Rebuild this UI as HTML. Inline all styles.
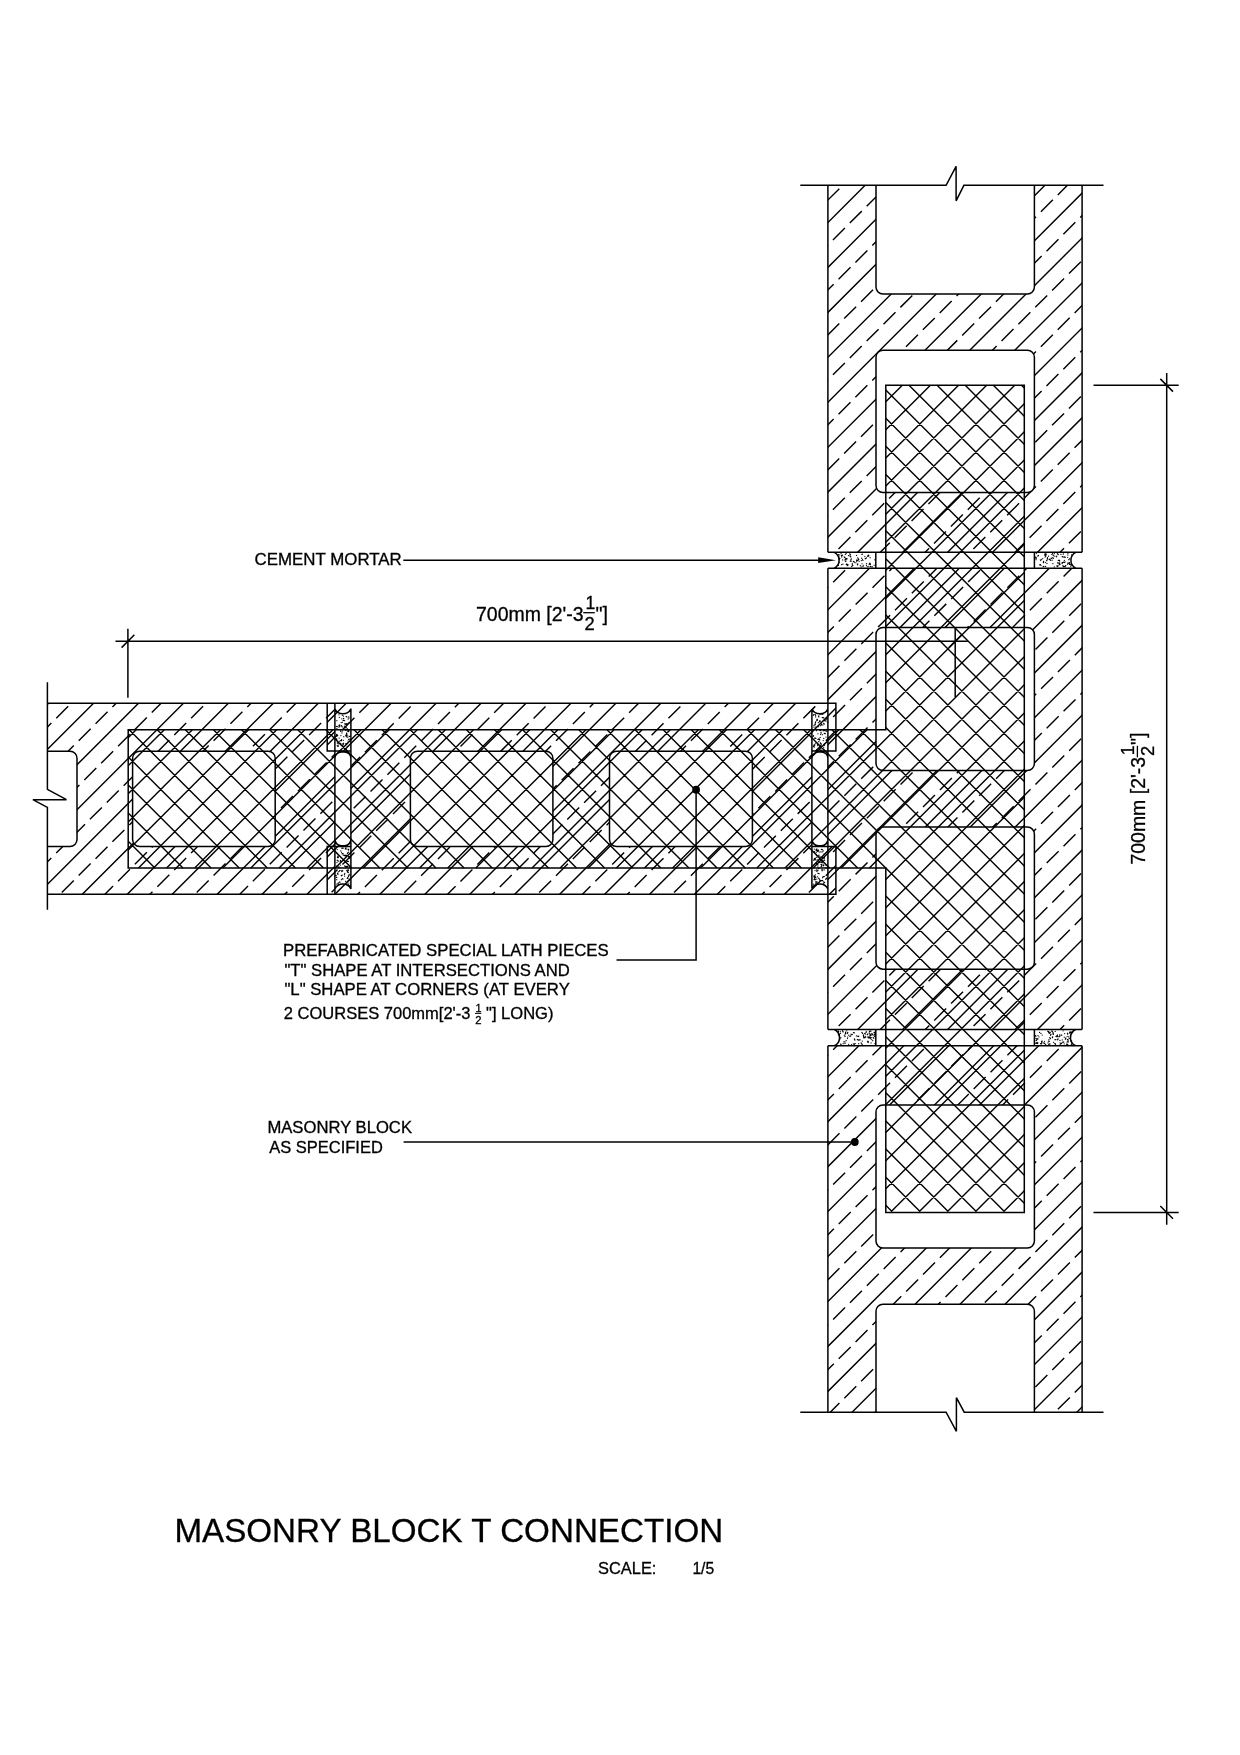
<!DOCTYPE html>
<html lang="en"><head><meta charset="utf-8"><title>Masonry Block T Connection</title>
<style>html,body{margin:0;padding:0;background:#fff}body{width:1240px;height:1755px;overflow:hidden}svg{display:block;will-change:transform}</style>
</head><body>
<svg width="1240" height="1755" viewBox="0 0 1240 1755">
<defs>
<clipPath id="cv1"><path clip-rule="evenodd" d="M827.9 185.3H1082.1V552.3H827.9ZM876 185.3H1034.4V287A7.0 7.0 0 0 1 1027.4 294H883A7.0 7.0 0 0 1 876 287ZM883 350.2H1027.4A7.0 7.0 0 0 1 1034.4 357.2V485.6A7.0 7.0 0 0 1 1027.4 492.6H883A7.0 7.0 0 0 1 876 485.6V357.2A7.0 7.0 0 0 1 883 350.2Z"/></clipPath>
<clipPath id="cv2"><path clip-rule="evenodd" d="M827.9 568.2H1082.1V1029.5H827.9ZM883 627.4H1027.4A7.0 7.0 0 0 1 1034.4 634.4V763.6A7.0 7.0 0 0 1 1027.4 770.6H883A7.0 7.0 0 0 1 876 763.6V634.4A7.0 7.0 0 0 1 883 627.4ZM883 827.1H1027.4A7.0 7.0 0 0 1 1034.4 834.1V962.2A7.0 7.0 0 0 1 1027.4 969.2H883A7.0 7.0 0 0 1 876 962.2V834.1A7.0 7.0 0 0 1 883 827.1Z"/></clipPath>
<clipPath id="cv3"><path clip-rule="evenodd" d="M827.9 1045.8H1082.1V1412.2H827.9ZM883 1105H1027.4A7.0 7.0 0 0 1 1034.4 1112V1241.1A7.0 7.0 0 0 1 1027.4 1248.1H883A7.0 7.0 0 0 1 876 1241.1V1112A7.0 7.0 0 0 1 883 1105ZM876 1412.2V1311.2A7.0 7.0 0 0 1 883 1304.2H1027.4A7.0 7.0 0 0 1 1034.4 1311.2V1412.2Z"/></clipPath>
<clipPath id="ch1"><path clip-rule="evenodd" d="M47.4 703.3H334.9V894.3H47.4ZM47.4 751.2H70A7.0 7.0 0 0 1 77 758.2V839.5A7.0 7.0 0 0 1 70 846.5H47.4ZM139.6 751.2H268.2A7.0 7.0 0 0 1 275.2 758.2V839.5A7.0 7.0 0 0 1 268.2 846.5H139.6A7.0 7.0 0 0 1 132.6 839.5V758.2A7.0 7.0 0 0 1 139.6 751.2Z"/></clipPath>
<clipPath id="ch2"><path clip-rule="evenodd" d="M327.2 703.3H350.9V751.1H327.2ZM327.2 846.6H350.9V894.3H327.2ZM811.9 703.3H835.9V751.1H811.9ZM811.9 846.6H835.9V894.3H811.9ZM350.9 703.3H811.9V894.3H350.9ZM417.4 751.2H545.9A7.0 7.0 0 0 1 552.9 758.2V839.5A7.0 7.0 0 0 1 545.9 846.5H417.4A7.0 7.0 0 0 1 410.4 839.5V758.2A7.0 7.0 0 0 1 417.4 751.2ZM616.5 751.2H745.4A7.0 7.0 0 0 1 752.4 758.2V839.5A7.0 7.0 0 0 1 745.4 846.5H616.5A7.0 7.0 0 0 1 609.5 839.5V758.2A7.0 7.0 0 0 1 616.5 751.2Z"/></clipPath>
<clipPath id="cl"><path d="M128.2 729.7H885.8V385.2H1024.3V1212.4H885.8V867.9H128.2Z"/></clipPath>
</defs>
<rect width="1240" height="1755" fill="#fff"/>
<path clip-path="url(#cv1)" d="M826.9 223.5L866.1 184.3M826.9 268.45L911.05 184.3M826.9 313.4L956 184.3M826.9 358.35L1000.95 184.3M826.9 403.3L1045.9 184.3M826.9 448.25L1083.1 192.05M826.9 493.2L1083.1 237M826.9 538.15L1083.1 281.95M856.7 553.3L1083.1 326.9M901.65 553.3L1083.1 371.85M946.6 553.3L1083.1 416.8M991.55 553.3L1083.1 461.75M1036.5 553.3L1083.1 506.7" fill="none" stroke="#000" stroke-width="1.42"/>
<path clip-path="url(#cv1)" d="M810.48 217.47L843.65 184.3M799.23 273.67L888.6 184.3M804.84 313.01L933.55 184.3M810.45 352.35L978.5 184.3M799.19 408.56L1023.45 184.3M804.8 447.9L1068.4 184.3M810.41 487.24L1083.1 214.55M799.16 543.44L1083.1 259.5M804.77 582.78L1083.1 304.45M860.97 571.53L1083.1 349.4M900.31 577.14L1083.1 394.35M939.65 582.75L1083.1 439.3M995.86 571.49L1083.1 484.25M1035.2 577.1L1083.1 529.2" fill="none" stroke="#000" stroke-width="1.42" stroke-dasharray="16.9 6.95"/>
<path clip-path="url(#cv2)" d="M826.9 610.8L870.5 567.2M826.9 655.75L915.45 567.2M826.9 700.7L960.4 567.2M826.9 745.65L1005.35 567.2M826.9 790.6L1050.3 567.2M826.9 835.55L1083.1 579.35M826.9 880.5L1083.1 624.3M826.9 925.45L1083.1 669.25M826.9 970.4L1083.1 714.2M826.9 1015.35L1083.1 759.15M856.7 1030.5L1083.1 804.1M901.65 1030.5L1083.1 849.05M946.6 1030.5L1083.1 894M991.55 1030.5L1083.1 938.95M1036.5 1030.5L1083.1 983.9" fill="none" stroke="#000" stroke-width="1.42"/>
<path clip-path="url(#cv2)" d="M799.44 615.86L848.1 567.2M805.05 655.2L893.05 567.2M810.66 694.54L938 567.2M799.41 750.74L982.95 567.2M805.02 790.08L1027.9 567.2M810.63 829.42L1072.85 567.2M799.37 885.63L1083.1 601.9M804.98 924.97L1083.1 646.85M810.59 964.31L1083.1 691.8M799.34 1020.51L1083.1 736.75M804.95 1059.85L1083.1 781.7M861.15 1048.6L1083.1 826.65M900.49 1054.21L1083.1 871.6M939.83 1059.82L1083.1 916.55M996.04 1048.56L1083.1 961.5M1035.38 1054.17L1083.1 1006.45" fill="none" stroke="#000" stroke-width="1.42" stroke-dasharray="16.9 6.95"/>
<path clip-path="url(#cv3)" d="M826.9 1077.75L859.85 1044.8M826.9 1122.7L904.8 1044.8M826.9 1167.65L949.75 1044.8M826.9 1212.6L994.7 1044.8M826.9 1257.55L1039.65 1044.8M826.9 1302.5L1083.1 1046.3M826.9 1347.45L1083.1 1091.25M826.9 1392.4L1083.1 1136.2M851.05 1413.2L1083.1 1181.15M896 1413.2L1083.1 1226.1M940.95 1413.2L1083.1 1271.05M985.9 1413.2L1083.1 1316M1030.85 1413.2L1083.1 1360.95M1075.8 1413.2L1083.1 1405.9" fill="none" stroke="#000" stroke-width="1.42"/>
<path clip-path="url(#cv3)" d="M799.44 1083.46L838.1 1044.8M805.05 1122.8L883.05 1044.8M810.66 1162.14L928 1044.8M799.41 1218.34L972.95 1044.8M805.02 1257.68L1017.9 1044.8M810.63 1297.02L1062.85 1044.8M799.37 1353.23L1083.1 1069.5M804.98 1392.57L1083.1 1114.45M810.59 1431.91L1083.1 1159.4M849.93 1437.52L1083.1 1204.35M889.27 1443.13L1083.1 1249.3M945.48 1431.87L1083.1 1294.25M984.82 1437.48L1083.1 1339.2M1024.16 1443.09L1083.1 1384.15" fill="none" stroke="#000" stroke-width="1.42" stroke-dasharray="16.9 6.95"/>
<path clip-path="url(#ch1)" d="M46.4 705.45L49.55 702.3M46.4 750.4L94.5 702.3M46.4 795.35L139.45 702.3M46.4 840.3L184.4 702.3M46.4 885.25L229.35 702.3M81.3 895.3L274.3 702.3M126.25 895.3L319.25 702.3M171.2 895.3L335.9 730.6M216.15 895.3L335.9 775.55M261.1 895.3L335.9 820.5M306.05 895.3L335.9 865.45" fill="none" stroke="#000" stroke-width="1.42"/>
<path clip-path="url(#ch1)" d="M22.52 751.93L72.15 702.3M28.13 791.27L117.1 702.3M16.87 847.48L162.05 702.3M22.48 886.82L207 702.3M28.09 926.16L251.95 702.3M84.3 914.9L296.9 702.3M123.64 920.51L335.9 708.25M162.98 926.12L335.9 753.2M219.18 914.87L335.9 798.15M258.52 920.48L335.9 843.1M297.86 926.09L335.9 888.05" fill="none" stroke="#000" stroke-width="1.42" stroke-dasharray="16.9 6.95"/>
<path clip-path="url(#ch2)" d="M326.2 723.25L347.15 702.3M326.2 768.2L392.1 702.3M326.2 813.15L437.05 702.3M326.2 858.1L482 702.3M333.95 895.3L526.95 702.3M378.9 895.3L571.9 702.3M423.85 895.3L616.85 702.3M468.8 895.3L661.8 702.3M513.75 895.3L706.75 702.3M558.7 895.3L751.7 702.3M603.65 895.3L796.65 702.3M648.6 895.3L836.9 707M693.55 895.3L836.9 751.95M738.5 895.3L836.9 796.9M783.45 895.3L836.9 841.85M828.4 895.3L836.9 886.8" fill="none" stroke="#000" stroke-width="1.42"/>
<path clip-path="url(#ch2)" d="M308.74 763.41L369.85 702.3M297.48 819.62L414.8 702.3M303.09 858.96L459.75 702.3M308.7 898.3L504.7 702.3M331.18 920.77L549.65 702.3M370.52 926.38L594.6 702.3M426.72 915.13L639.55 702.3M466.06 920.74L684.5 702.3M505.4 926.35L729.45 702.3M561.61 915.09L774.4 702.3M600.95 920.7L819.35 702.3M640.29 926.31L836.9 729.7M696.49 915.06L836.9 774.65M735.83 920.67L836.9 819.6M775.17 926.28L836.9 864.55" fill="none" stroke="#000" stroke-width="1.42" stroke-dasharray="16.9 6.95"/>
<path d="M1021.45 385.2L1024.3 388.05M993.34 385.2L1024.3 416.16M965.23 385.2L1024.3 444.27M937.12 385.2L1024.3 472.38M909.01 385.2L1024.3 500.49M885.8 390.1L1024.3 528.6M885.8 418.21L1024.3 556.71M885.8 446.32L1024.3 584.82M885.8 474.43L1024.3 612.93M885.8 502.54L1024.3 641.04M885.8 530.65L1024.3 669.15M885.8 558.76L1024.3 697.26M885.8 586.87L1024.3 725.37M885.8 614.98L1024.3 753.48M885.8 643.09L1024.3 781.59M885.8 671.2L1024.3 809.7M885.8 699.31L1024.3 837.81M885.8 727.42L1024.3 865.92M885.8 755.53L1024.3 894.03M885.8 783.64L1024.3 922.14M885.8 811.75L1024.3 950.25M885.8 839.86L1024.3 978.36M885.8 867.97L1024.3 1006.47M885.8 896.08L1024.3 1034.58M885.8 924.19L1024.3 1062.69M885.8 952.3L1024.3 1090.8M885.8 980.41L1024.3 1118.91M885.8 1008.52L1024.3 1147.02M885.8 1036.63L1024.3 1175.13M885.8 1064.74L1024.3 1203.24M885.8 1092.85L1005.35 1212.4M885.8 1120.96L977.24 1212.4M885.8 1149.07L949.13 1212.4M885.8 1177.18L921.02 1212.4M885.8 1205.29L892.91 1212.4M885.8 401.7L902.3 385.2M885.8 429.81L930.41 385.2M885.8 457.92L958.52 385.2M885.8 486.03L986.63 385.2M885.8 514.14L1014.74 385.2M885.8 542.25L1024.3 403.75M885.8 570.36L1024.3 431.86M885.8 598.47L1024.3 459.97M885.8 626.58L1024.3 488.08M885.8 654.69L1024.3 516.19M885.8 682.8L1024.3 544.3M885.8 710.91L1024.3 572.41M885.8 739.02L1024.3 600.52M885.8 767.13L1024.3 628.63M885.8 795.24L1024.3 656.74M885.8 823.35L1024.3 684.85M885.8 851.46L1024.3 712.96M885.8 879.57L1024.3 741.07M885.8 907.68L1024.3 769.18M885.8 935.79L1024.3 797.29M885.8 963.9L1024.3 825.4M885.8 992.01L1024.3 853.51M885.8 1020.12L1024.3 881.62M885.8 1048.23L1024.3 909.73M885.8 1076.34L1024.3 937.84M885.8 1104.45L1024.3 965.95M885.8 1132.56L1024.3 994.06M885.8 1160.67L1024.3 1022.17M885.8 1188.78L1024.3 1050.28M890.29 1212.4L1024.3 1078.39M918.4 1212.4L1024.3 1106.5M946.51 1212.4L1024.3 1134.61M974.62 1212.4L1024.3 1162.72M1002.73 1212.4L1024.3 1190.83M859.97 729.7L885.8 755.53M831.86 729.7L885.8 783.64M803.75 729.7L885.8 811.75M775.64 729.7L885.8 839.86M747.53 729.7L885.73 867.9M719.42 729.7L857.62 867.9M691.31 729.7L829.51 867.9M663.2 729.7L801.4 867.9M635.09 729.7L773.29 867.9M606.98 729.7L745.18 867.9M578.87 729.7L717.07 867.9M550.76 729.7L688.96 867.9M522.65 729.7L660.85 867.9M494.54 729.7L632.74 867.9M466.43 729.7L604.63 867.9M438.32 729.7L576.52 867.9M410.21 729.7L548.41 867.9M382.1 729.7L520.3 867.9M353.99 729.7L492.19 867.9M325.88 729.7L464.08 867.9M297.77 729.7L435.97 867.9M269.66 729.7L407.86 867.9M241.55 729.7L379.75 867.9M213.44 729.7L351.64 867.9M185.33 729.7L323.53 867.9M157.22 729.7L295.42 867.9M129.11 729.7L267.31 867.9M128.2 756.9L239.2 867.9M128.2 785.01L211.09 867.9M128.2 813.12L182.98 867.9M128.2 841.23L154.87 867.9M128.2 737.65L136.15 729.7M128.2 765.76L164.26 729.7M128.2 793.87L192.37 729.7M128.2 821.98L220.48 729.7M128.2 850.09L248.59 729.7M138.5 867.9L276.7 729.7M166.61 867.9L304.81 729.7M194.72 867.9L332.92 729.7M222.83 867.9L361.03 729.7M250.94 867.9L389.14 729.7M279.05 867.9L417.25 729.7M307.16 867.9L445.36 729.7M335.27 867.9L473.47 729.7M363.38 867.9L501.58 729.7M391.49 867.9L529.69 729.7M419.6 867.9L557.8 729.7M447.71 867.9L585.91 729.7M475.82 867.9L614.02 729.7M503.93 867.9L642.13 729.7M532.04 867.9L670.24 729.7M560.15 867.9L698.35 729.7M588.26 867.9L726.46 729.7M616.37 867.9L754.57 729.7M644.48 867.9L782.68 729.7M672.59 867.9L810.79 729.7M700.7 867.9L838.9 729.7M728.81 867.9L867.01 729.7M756.92 867.9L885.8 739.02M785.03 867.9L885.8 767.13M813.14 867.9L885.8 795.24M841.25 867.9L885.8 823.35M869.36 867.9L885.8 851.46" fill="none" stroke="#000" stroke-width="1.42"/>
<path d="M848.56 555.54h0.01M850.2 554.28h0.01M838.63 554.72h0.01M868.23 555.17l-0.53 1.25M858.46 558.86h0.01M837.72 565.09l0.62 0.3M847.96 564.52l-0.28 1.07M850.46 560.89l0.75 0.14M862.5 559.27h0.01M858.8 559.62l-0.93 0.7M845.44 561.25h0.01M870.12 563.35l-0.69 0.04M852.25 563.72l0.02 0.63M862.03 563.82h0.01M870.13 557.74h0.01M859.14 561.33h0.01M868.74 566.25h0.01M861.87 554.32h0.01M861.2 566.91h0.01M847.03 558.71h0.01M842.47 555.08l-0.53 0.47M845.58 558.78h0.01M839.05 559.56h0.01M870.44 564.56h0.01M846.79 559.11h0.01M870.47 566.43l0.67 0.41M845.02 560.05h0.01M846.17 553.56h0.01M850.34 561.15h0.01M862.9 560.46h0.01M862.34 554.23h0.01M866.4 565.31h0.01M851.24 558.89l-0.27 0.59M838.53 556.32l0.31 0.56M839.87 558.41l-1.01 0.42M841.71 556.91h0.01M850.14 555.16h0.01M874.73 559.79h0.01M839.26 554.88h0.01M846.25 564.69l1.36 0.1M856.55 555.48h0.01M874.16 565.15h0.01M846.11 558.45l-0.77 0.67M866.36 557.95l-1.15 0.77M869.24 564.38h0.01M864.83 556.56h0.01M849.8 553.89l0.52 0.62M862.98 566.41h0.01M872.54 566.84h0.01M850.16 556.48l0.62 0.44M860.3 565.65h0.01M854.65 562.32h0.01M839.21 562.42h0.01M866.49 563.63h0.01M842.88 564.15h0.01M867.21 566.62h0.01M851.59 566.28h0.01M842.55 555.22l-1.19 0.37M841.62 564.66h0.01M861.6 558.23h0.01M841.02 553.69h0.01M861.3 560.61h0.01M852.86 565.27h0.01M844.15 556.9l0.78 0.73M846.04 559.16l-0.85 0.25M853.81 561.38h0.01M852.35 565.89h0.01M856.69 560.57l0.14 0.73M842.64 559.89h0.01M857.66 557.9h0.01M857.62 564.09l-0.15 0.78M846.73 563.93h0.01M857.86 563.76h0.01M853.23 561.77h0.01M855.93 562.85h0.01M856.75 559.95h0.01M863.24 565.33h0.01M846.05 561.05h0.01M868.74 555.35l0.12 0.65M845.31 554.49h0.01M1065.74 565.61l-0.71 0.88M1040.93 565.42h0.01M1043.9 566.36h0.01M1054.26 566.86h0.01M1041.65 559.33h0.01M1048.52 556.14h0.01M1063.35 553.76h0.01M1052.45 553.74h0.01M1059.55 560.42l-1.23 0.06M1045.68 554.03h0.01M1045.87 555.25h0.01M1070.67 564.56l1.19 0.6M1057.48 562.96l1.13 0.21M1051.86 554.48h0.01M1059.95 564.32l-0.59 0.29M1068.79 559.63h0.01M1056.8 566.01l0.94 0.4M1044.63 554.98l0.75 0.12M1047.47 557.62h0.01M1046.62 560.25l0.28 0.54M1045.09 553.71h0.01M1056.73 556.06h0.01M1071.57 554.93h0.01M1052.13 560.18h0.01M1050.61 560.34h0.01M1067.61 563.04h0.01M1051.06 558.19l0.6 0.26M1064.07 556.95l1.23 0.33M1069.09 562.55l0.6 0.58M1053.18 555.63h0.01M1045.59 566.48h0.01M1056.57 556.8h0.01M1047.38 558.31l0.36 0.91M1054.86 556.21h0.01M1035.59 557.07l0.2 0.6M1036.27 557.61l-0.27 0.99M1064.45 562.38h0.01M1069.42 558.76h0.01M1063.42 562.18l-1.14 0.65M1059.68 563.41h0.01M1040.79 560.57h0.01M1067.71 564.36h0.01M1058 565.55h0.01M1062.23 556.6l0.81 0.36M1039.46 564.78h0.01M1059.69 561.95h0.01M1054.34 553.54h0.01M1064.36 560.29h0.01M1060.91 554.39h0.01M1045.16 554.51l-0.5 0.57M1064.03 566.67h0.01M1050.21 559.97h0.01M1065.08 561.83h0.01M1038.4 555.49l-0.58 0.61M1057.37 553.67l0.76 0.85M1062.19 562.62l-0.05 0.97M1053.45 555.1h0.01M1043.11 566.7h0.01M1036.08 559.7h0.01M1045.8 556.33h0.01M1043.55 561.35l-0.1 1.36M1040.53 564.57h0.01M1069.72 563l-0.94 0.31M1036.36 553.55h0.01M1052.84 557.58l0.4 0.75M1067.92 553.52h0.01M1067.87 555.12h0.01M1062.99 565.67l0.36 0.84M1049.36 559.28l0.67 0.1M1067.7 557.36h0.01M1045.05 557.09h0.01M1042.75 558.54h0.01M1069.62 564.46h0.01M1070.75 566.2h0.01M1063.25 554.17h0.01M1052.85 563.66h0.01M1046.48 554.16h0.01M1040.33 559.87h0.01M1046.92 563.48h0.01M1045.47 562.36h0.01M857.69 1036.18l0.67 0.37M871.32 1037.61l-1.34 0.41M853.49 1032.64l0.84 0.25M839.46 1034.02l-0.28 1.28M865.21 1036.44h0.01M856.39 1035.94h0.01M838.33 1034.56h0.01M840.82 1037.7h0.01M869.64 1033.7l0.65 0.65M853.33 1043.96h0.01M870.03 1031l-0.81 1.04M854.4 1038.86l0.45 1.26M868.18 1042.59h0.01M845.61 1032.22l-0.08 1.14M872.71 1040.73h0.01M865.8 1037.06h0.01M844.99 1043.49h0.01M847.78 1032.48l-0.48 1.05M840.28 1031.68h0.01M858.69 1036.09l-0.19 0.58M847.69 1037.1h0.01M861.1 1042.98h0.01M845.08 1034.13h0.01M863.45 1034.97l0.01 1.14M852.32 1034.28h0.01M872.07 1033.85l0.46 0.82M862.59 1033.45h0.01M864.8 1037.72l-0.85 0.08M867.96 1033.91l-0.61 0.57M873.12 1037.59l0.71 0.6M861.91 1043.89l0.25 0.73M873.99 1032.67l0.9 0.17M871.02 1042.98h0.01M874.9 1043.65h0.01M843.15 1043.71h0.01M850.7 1035.9h0.01M842.52 1030.74l0.61 1.22M840.74 1044.1l0.55 1.13M868.04 1036.71l0.07 0.9M871.85 1033.38h0.01M870.97 1031.12h0.01M867.64 1041.36l0.65 0.07M871.87 1034.27h0.01M871.03 1035.41l-1.08 0.14M846.15 1040.66h0.01M846.68 1030.75h0.01M871.73 1039.51h0.01M854.48 1044h0.01M851.01 1034.19h0.01M855.19 1043.6l-0.97 0.69M868.07 1041.44h0.01M848.72 1035.14h0.01M866.49 1031.8l-0.57 0.56M838.43 1031.17h0.01M848.64 1044.33h0.01M874.52 1034.38l0.95 0.3M863.65 1036.91l0.28 1.06M862.26 1041.1h0.01M861.88 1032.38h0.01M847.39 1038.58h0.01M864.76 1033.47l0.52 0.5M870.47 1038.74h0.01M851.39 1044.5h0.01M844.95 1041.94h0.01M874.65 1032.12h0.01M867.93 1042.38h0.01M840.56 1033.34h0.01M858.7 1043.63h0.01M869.77 1036.94l-1.04 0.87M840.04 1038.99h0.01M844.41 1035.83l0.64 0.48M859.34 1039.76l0.86 0.03M862.42 1033.27h0.01M843.85 1041.75h0.01M838.37 1032.11h0.01M857.41 1039.58l1.01 0.57M851.92 1034.64h0.01M873.17 1035.04h0.01M849.87 1036.49h0.01M874.87 1035.76l-0.5 0.58M1035.63 1043.23h0.01M1067.15 1036.35h0.01M1053.24 1032.96l-0.18 1.1M1070.61 1031.94h0.01M1049.75 1037.71l0.64 0.79M1071.22 1032.21h0.01M1066.55 1044.14l1.25 0.52M1037.47 1043.57h0.01M1070.39 1039.32h0.01M1041.6 1041.62l0.38 1.22M1067.49 1033.24l0.31 0.96M1050.24 1032.41l-0.86 1M1036.99 1038.52h0.01M1036.88 1042.35l-0.32 0.99M1059.67 1034.96h0.01M1057.95 1036.62h0.01M1052.69 1036.79l-0.36 0.92M1044.5 1041.31h0.01M1053.14 1033.2h0.01M1039.54 1032.49h0.01M1038.95 1036.84h0.01M1036.98 1039.55l-0.82 0.91M1055.19 1031.45h0.01M1050.02 1043.92l-1.26 0.61M1063.73 1042.03l-0.99 0.06M1072.42 1043.43l-1.06 0.83M1037.94 1035.58h0.01M1041.54 1043.16l-0.6 0.39M1054.84 1043.49l0.68 0.74M1047.75 1031.21l1.18 0.65M1061.7 1043.15l-0.54 0.43M1055.94 1039.54h0.01M1069.18 1038.42h0.01M1069.55 1032.15h0.01M1059.77 1036.18h0.01M1045.65 1044.47h0.01M1049.34 1041.33h0.01M1042.24 1041.04l-0.68 0.43M1060.14 1044.38h0.01M1061.09 1035.05l0.72 0.08M1059.24 1036.71h0.01M1070.06 1032.54l-0.29 0.55M1035.5 1035.63l0.34 0.7M1057.98 1038.89l-0.37 0.91M1040.61 1043.72l0.6 0.31M1060.1 1042.81h0.01M1050.96 1034.37l-0.46 0.94M1048.96 1039.67h0.01M1071.67 1040.9l-0.61 0.19M1055.97 1036.34l1.2 0.22M1035.88 1038.36h0.01M1040.91 1033.47h0.01M1055.02 1039.62h0.01M1042.16 1035h0.01M1037.28 1043.06h0.01M1063.09 1030.79h0.01M1064.24 1037.17h0.01M1052.91 1033.84l0.47 0.42M1048.38 1041.12h0.01M1068.11 1040.59l-0.16 0.94M1065.91 1037.97l-0.59 1.24M1043.8 1042.93l0.54 0.58M1064.19 1043.83h0.01M1048.05 1042.93h0.01M1044.66 1043.32h0.01M1062.21 1039.95h0.01M1053.57 1042.37h0.01M1068.59 1036.78h0.01M1057.47 1034.98l-0.25 0.61M1070.65 1032.71l1.27 0.44M1048.75 1032.67l1.14 0.15M1059.93 1040.39h0.01M1037.95 1038.91h0.01M1067.04 1042.09h0.01M1037.95 1042.76h0.01M1071.95 1032.19l0.59 0.22M1068.21 1041.99h0.01M1067.33 1039.48l0.65 0.21M1064.71 1033.55h0.01M1051.8 1030.99l0.74 0.91M341.11 722.59h0.01M342.95 744.24h0.01M336.52 726.35h0.01M346.61 723.65h0.01M343.42 718.34h0.01M337.34 742.95l0.76 0M346.47 749.4l0.03 0.99M346.94 717.03h0.01M340.82 743.44l-0.81 0.15M339.02 738.04h0.01M337.59 735.47l-0.91 0.72M346.8 735.12h0.01M341.56 725.6h0.01M337.27 745.75l0.65 0.49M348.36 729.95h0.01M348.12 719.03h0.01M343.33 740.28h0.01M344.89 723.72h0.01M338.21 743.9h0.01M346.19 716.42h0.01M346.62 733.13l0.16 1.3M339.34 717.32h0.01M345.66 743.92l0.7 0.38M340.54 730.8l0.39 0.64M349.36 739.23l-0.68 0.08M341.33 749.64h0.01M346.07 727.24l-0.29 0.62M338.91 725.34l0.38 1.17M345.53 729.92h0.01M342.4 715.29h0.01M341.6 739.73h0.01M341.95 732.92h0.01M341.83 718.83h0.01M348.07 741.08h0.01M347.69 737.23h0.01M342.27 722.27h0.01M337.43 726.62h0.01M345.8 735.19l0.23 0.94M344.55 726.2h0.01M348.75 716.97h0.01M346.68 725.36h0.01M343.49 716.06h0.01M348.89 730.68l-0.24 1M345.86 730.4h0.01M347.37 730.78h0.01M348.99 718.07h0.01M341.44 740.62l-0.88 0.04M336.87 720.69h0.01M336.28 726.58h0.01M345.6 723.87l0.91 0.77M348.88 731l-0.74 0.53M338.98 714.78h0.01M347.11 735.38h0.01M343.74 718.72h0.01M340.9 735.56h0.01M347.2 728.6l-0.11 0.69M347.44 723.97h0.01M339.74 724.85l0.17 0.73M336.14 738.95l0.6 0.59M342.62 726.98h0.01M345.07 724.29h0.01M347.36 746.46h0.01M338.01 743.42h0.01M349.04 736.26l0.68 0.22M339.28 741.17h0.01M338.18 746.39h0.01M338.38 745.86h0.01M346.73 736.77h0.01M346.82 743.72l-0.58 0.84M346.19 727.39h0.01M343.65 720.29l0.9 0.42M336.89 728.56l0.03 1M343.44 744.71l-0.85 0.47M343.75 736.64h0.01M341.2 726.59h0.01M337.13 735.49h0.01M336.49 734.37h0.01M348.77 722.98h0.01M343.04 729.27h0.01M336.56 738.8h0.01M340.71 744.66h0.01M342.55 730.94h0.01M338.97 727.26h0.01M343.63 743.23l-0.79 0.48M342.95 720.59h0.01M349.36 874.3h0.01M340.6 860.43l-0.3 1.07M346.77 849.05h0.01M348.14 869.82l0.35 0.49M344.38 874.44h0.01M348.47 872.54h0.01M344.62 876.02h0.01M345.36 856.13h0.01M342.33 878.75l0.53 0.34M345.02 862.56h0.01M346.8 870.5l0.55 0.76M340.43 865.1h0.01M348.8 849.64h0.01M336.64 852.28h0.01M342.17 847.98h0.01M349.44 866.94h0.01M337.49 873.89l0.54 0.28M336.17 875.5l-0.67 0.07M347.93 852.7l-0.5 0.61M346.08 855.1l-0.89 0.76M347.73 877.39l-0.46 1.07M345.85 847.87l-0.57 1.12M337.18 860.18h0.01M338.36 882.79h0.01M336.91 862.51h0.01M342.07 875.22l-0.72 0.53M344.87 873.28h0.01M341.35 879.71h0.01M346.77 870.7l1.35 0.26M345.66 881.41h0.01M347.41 872.11h0.01M341.22 875.55h0.01M348.29 880.59l0.81 0M341.85 871.51h0.01M348.17 849.14h0.01M347.14 883.04h0.01M339.82 882.38h0.01M340.82 850.9h0.01M346.94 855.64h0.01M348.77 857.02h0.01M345.32 866.52l0.84 0.86M346.87 866.29l-1 0.7M339.27 871.22h0.01M348.14 868.85h0.01M344.11 855.17l0.98 0.62M341.03 870.6h0.01M343.13 853.52l-0.9 0.01M337.54 873.41h0.01M338.22 871.95h0.01M343.16 848.25l-1.29 0.04M342.71 870.71l-0.72 0.6M348.97 878.93h0.01M349.2 857.84l0.6 0.44M337.24 849.5h0.01M347.94 866.24h0.01M348.47 850.04h0.01M341.5 852.33h0.01M339.6 870.6h0.01M349.11 874.93h0.01M342.2 853.96h0.01M349.59 856.51l0.61 0.63M348.38 884.58h0.01M336.74 879.72h0.01M336.86 853.35h0.01M348.88 875.22l-0.34 1.16M337.53 860.71l0.91 0.37M338.39 857.2l-0.32 0.52M345.85 855.42l-0.76 0.17M348.8 883.02h0.01M338 865.78l-1.24 0.28M344.65 865.99h0.01M347.29 867.03h0.01M338.04 856.51l-0.65 0.82M338.07 883.19l0.2 0.7M339.79 881.91h0.01M338.38 867.58h0.01M348.38 852.09h0.01M336.87 884.19h0.01M338.97 867.02l0.52 0.55M349.67 885.42l0.81 1.04M336.88 877.26l-0.61 0.04M347.08 861.41l1.27 0.01M343.26 855.04h0.01M348.5 856.37h0.01M337.98 854.8h0.01M822.78 717.53l1.05 0.29M819.84 720.67l-0.4 1.09M824.14 733.28l1.16 0.24M818.65 738.94l-0.72 0.49M824.55 744.77h0.01M813.31 746.64h0.01M824.96 720.36l-0.77 0.45M815.32 724.64h0.01M813.16 730.71h0.01M820.11 714.43h0.01M824.2 744.81h0.01M822.77 725.06h0.01M813.93 745.11h0.01M819.83 730.44h0.01M826.26 718.63l0.76 0.25M814.41 738.02l1.08 0.06M820.94 730.83h0.01M814.5 744.98h0.01M813.71 714.52h0.01M819.91 720.91l0.21 0.68M821.15 744.63l-0.27 1.17M815.33 743.2h0.01M818.39 726.66h0.01M820.25 725.64h0.01M823.67 723.31l0.47 0.82M826.44 742.32h0.01M824.18 744.08l-0.07 1.36M825.81 719.67h0.01M821.7 724.37h0.01M814.04 727.17h0.01M813.38 715.19h0.01M823.66 747.73h0.01M824.11 745.58h0.01M813.57 735.68l-0.44 0.69M820.47 747.21h0.01M816.51 730.73h0.01M826.03 721.23h0.01M821.91 714.41h0.01M826.1 730.46l0.11 1.02M815.12 714.56l0.56 0.74M817.02 719.43l-0.18 1.26M821.4 732.76h0.01M815.84 738.48h0.01M820.55 734.5h0.01M817.32 719.38l-0.04 0.91M817.9 744.66l-0.18 0.98M816.97 749.79l-0.55 0.48M814.01 745.05h0.01M813.94 725.33h0.01M823.1 713.96l-1.18 0.15M815.2 723.25h0.01M822.28 734.64h0.01M824.27 730.62h0.01M823.21 740.5h0.01M823.78 738.41h0.01M814.83 745.03l-0.79 0.72M819.87 748.78h0.01M818.78 741.47h0.01M821.36 724.99h0.01M819.33 739l0.35 0.98M818.33 722.64h0.01M824.65 729.88h0.01M815.61 721.9l-0.25 1.04M814.3 747.04h0.01M824.57 743.7h0.01M815.88 726.9h0.01M813.25 711.44h0.01M819.86 747.05h0.01M820.42 750.23h0.01M820.13 737.46h0.01M817.96 733.76h0.01M825.99 737.1h0.01M814.45 724.78h0.01M820.73 732.92h0.01M826.22 729.36h0.01M821.59 750.14h0.01M820.31 742.79l0.75 1.16M824.33 730.41l-1.09 0.37M824.26 749.9h0.01M818.82 715.88l-0.04 1M815.66 716.94h0.01M821.3 723.91h0.01M818.7 741.64h0.01M817.24 743.86h0.01M822.19 717.52h0.01M820.62 858.33h0.01M820.91 864.3l1.06 0.57M814.55 851.51l-0.09 1.26M821.44 880.55l1.22 0.05M817.49 876.81h0.01M815.4 858.36l-1.02 0.32M817.84 865.89h0.01M813.84 884h0.01M826.15 865.47h0.01M816.49 849.21h0.01M824.72 860.34h0.01M824.2 859.88h0.01M826.16 867.77h0.01M816.4 863.42h0.01M816.11 860.11h0.01M819.69 879.98l0.76 0.46M817.05 870.48l-0.1 0.9M818.58 850.09l-0.75 0.46M816.43 855.26l0.46 0.43M822.13 861.43l-0.41 0.54M816.77 881.72l0.22 1.25M824.05 853.94h0.01M822.93 862.89h0.01M819.97 856.74h0.01M814.88 876.44l-1.02 0.33M818.1 857.52h0.01M815.99 883.26l-0.04 1.03M816.78 879.12h0.01M822.04 870.73h0.01M818.4 850.94l-0.76 0.39M822.11 851.88h0.01M818.02 867.97l0.83 0.17M816.18 852.58h0.01M816.94 863.98h0.01M823.64 883.68h0.01M814.9 858.77l-0.6 0.96M817.88 864.36h0.01M822.61 857.61h0.01M817.89 873.24l1.24 0.47M823.08 876.69l0.72 0.09M815.79 859.86h0.01M813.63 860.18h0.01M815.54 881.9h0.01M822.85 857.87h0.01M822.41 861.75l-1.06 0.61M816.99 849.17h0.01M821.36 849.35l1.16 0.42M823.29 850.94h0.01M818.45 878.12h0.01M816.92 851.1h0.01M822.51 877.76h0.01M821.64 866.01l-0.55 0.77M814.84 878.72l-0.74 1M816.65 869.86h0.01M821.77 869.76l0.87 0.16M818.7 855.68h0.01M814.96 876.46h0.01M816.34 857.33h0.01M817.88 859.7h0.01M815.03 870.55h0.01M824.19 869.93h0.01M815.4 874.79h0.01M819.37 878.89h0.01M814.66 859.29h0.01M815.91 849.88l0.95 0.67M819.19 852.04h0.01M819.47 862.32l0.59 0.14M826.59 878.24l-0.87 1.07M820.77 851.87h0.01M819.01 855.2h0.01M813.21 885.19h0.01M821.98 857.73l0.56 0.26M823.63 881.91l0.93 0.61M815.39 879.65h0.01M823.2 860.83l-0.73 0.45M818.11 870.05h0.01M824.41 857.24l-0.23 1.08M824.25 876.4h0.01M825.95 867.72h0.01M815.24 859.71h0.01M814.19 875.68l0.24 1.35M814.32 849.04h0.01M815.7 877.11l-1.13 0.62M823.8 864.89l-0.49 0.88M818.83 861.32h0.01" fill="none" stroke="#000" stroke-width="1.25" stroke-linecap="round"/>
<path d="M800.3 185.3H946.1L956.1 166.3V200.8L963.9 185.3H1103.5M800.3 1412.2H946.1L956.4 1431.3V1397.7L964.2 1412.2H1103.5M827.9 185.3V552.3M827.9 568.2V1029.5M827.9 1045.8V1412.2M1082.1 185.3V552.3M1082.1 568.2V1029.5M1082.1 1045.8V1412.2M827.9 552.3H1082.1M827.9 568.2H1082.1M827.9 1029.5H1082.1M827.9 1045.8H1082.1M875.8 552.3V568.2M1034.4 552.3V568.2M834.2 552.3A8.9 8.9 0 0 1 834.2 568.2M1075.8 552.3A8.9 8.9 0 0 0 1075.8 568.2M875.8 1029.5V1045.8M1034.4 1029.5V1045.8M834.2 1029.5A8.9 8.9 0 0 1 834.2 1045.8M1075.8 1029.5A8.9 8.9 0 0 0 1075.8 1045.8M876.0 185.3V287A7.0 7.0 0 0 0 883 294.0H1027.4A7.0 7.0 0 0 0 1034.4 287V185.3M883 350.2H1027.4A7.0 7.0 0 0 1 1034.4 357.2V485.6A7.0 7.0 0 0 1 1027.4 492.6H883A7.0 7.0 0 0 1 876 485.6V357.2A7.0 7.0 0 0 1 883 350.2ZM883 627.4H1027.4A7.0 7.0 0 0 1 1034.4 634.4V763.6A7.0 7.0 0 0 1 1027.4 770.6H883A7.0 7.0 0 0 1 876 763.6V634.4A7.0 7.0 0 0 1 883 627.4ZM883 827.1H1027.4A7.0 7.0 0 0 1 1034.4 834.1V962.2A7.0 7.0 0 0 1 1027.4 969.2H883A7.0 7.0 0 0 1 876 962.2V834.1A7.0 7.0 0 0 1 883 827.1ZM883 1105H1027.4A7.0 7.0 0 0 1 1034.4 1112V1241.1A7.0 7.0 0 0 1 1027.4 1248.1H883A7.0 7.0 0 0 1 876 1241.1V1112A7.0 7.0 0 0 1 883 1105ZM876.0 1412.2V1311.2A7.0 7.0 0 0 1 883 1304.2H1027.4A7.0 7.0 0 0 1 1034.4 1311.2V1412.2M47.4 682.3V789.4L66.45 799.7H32.9L47.4 807.4V909.7M47.4 703.3H835.9V751.1H811.9M47.4 894.3H835.9V846.6H811.9M334.9 703.3V894.3M350.9 708.5V889.0M811.9 709.3V888.3M327.2 703.3V751.1H350.9M327.2 894.3V846.6H350.9M334.9 708.8A8.9 8.9 0 0 0 350.9 708.8M334.9 888.9A8.9 8.9 0 0 1 350.9 888.9M334.9 758.4A6.5 6.5 0 0 1 341.4 751.9H344.4A6.5 6.5 0 0 1 350.9 758.4M334.9 839.3A6.5 6.5 0 0 0 341.4 845.8H344.4A6.5 6.5 0 0 0 350.9 839.3M811.9 708.8A8.9 8.9 0 0 0 827.9 708.8M811.9 888.9A8.9 8.9 0 0 1 827.9 888.9M811.9 758.4A6.5 6.5 0 0 1 818.4 751.9H821.4A6.5 6.5 0 0 1 827.9 758.4M811.9 839.3A6.5 6.5 0 0 0 818.4 845.8H821.4A6.5 6.5 0 0 0 827.9 839.3M47.4 751.2H70A7.0 7.0 0 0 1 77.0 758.2V839.5A7.0 7.0 0 0 1 70 846.5H47.4M139.6 751.2H268.2A7.0 7.0 0 0 1 275.2 758.2V839.5A7.0 7.0 0 0 1 268.2 846.5H139.6A7.0 7.0 0 0 1 132.6 839.5V758.2A7.0 7.0 0 0 1 139.6 751.2ZM417.4 751.2H545.9A7.0 7.0 0 0 1 552.9 758.2V839.5A7.0 7.0 0 0 1 545.9 846.5H417.4A7.0 7.0 0 0 1 410.4 839.5V758.2A7.0 7.0 0 0 1 417.4 751.2ZM616.5 751.2H745.4A7.0 7.0 0 0 1 752.4 758.2V839.5A7.0 7.0 0 0 1 745.4 846.5H616.5A7.0 7.0 0 0 1 609.5 839.5V758.2A7.0 7.0 0 0 1 616.5 751.2ZM128.2 729.7H885.8V385.2H1024.3V1212.4H885.8V867.9H128.2Z" fill="none" stroke="#000" stroke-width="1.5" stroke-linejoin="miter"/>
<path d="M115.5 641.3H967.7M127.9 628.7V697.7M955.2 628.0V697.1M121.6 647.6L134.4 634.8M948.9 647.6L961.7 634.8M1166.7 373V1224.7M1093.5 385.3H1178.7M1093.5 1212.4H1178.7M1160.3 378.9L1173 391.6M1160.3 1206.0L1173 1218.7M403.3 560.2H820M616.5 960H696.1V789.7M403.6 1142H854.8" fill="none" stroke="#000" stroke-width="1.5"/>
<path d="M836 560.2L818.2 557.3V563.1Z" fill="#000"/>
<circle cx="696.1" cy="789.7" r="3.9"/><circle cx="854.8" cy="1142" r="3.9"/>
<g fill="#000" stroke="#000" stroke-width="0.3" font-family="Liberation Sans, Arial, sans-serif">
<text x="254.6" y="564.8" font-size="16.2" textLength="147.2" lengthAdjust="spacingAndGlyphs" >CEMENT MORTAR</text>
<g transform="translate(477.4 620.5)">
<text x="-1.4" y="0" font-size="19.8" textLength="107.6" lengthAdjust="spacingAndGlyphs">700mm [2&#39;-3</text>
<text x="112.9" y="-11.6" font-size="17.6" text-anchor="middle">1</text>
<text x="112.2" y="9.2" font-size="18.4" text-anchor="middle">2</text>
<path d="M105.8 -7.8H117.4" stroke-width="1.3"/>
<text x="118.1" y="0" font-size="19.8">&quot;]</text>
</g>
<g transform="translate(1145.2 863.2) rotate(-90)">
<text x="-1.4" y="0" font-size="19.8" textLength="107.6" lengthAdjust="spacingAndGlyphs">700mm [2&#39;-3</text>
<text x="112.9" y="-11.6" font-size="17.6" text-anchor="middle">1</text>
<text x="112.2" y="9.2" font-size="18.4" text-anchor="middle">2</text>
<path d="M105.8 -7.8H117.4" stroke-width="1.3"/>
<text x="118.1" y="0" font-size="19.8">&quot;]</text>
</g>
<text x="283" y="955.6" font-size="15.7" textLength="325.6" lengthAdjust="spacingAndGlyphs" >PREFABRICATED SPECIAL LATH PIECES</text>
<text x="284.4" y="975.6" font-size="15.7" textLength="285.4" lengthAdjust="spacingAndGlyphs" >&quot;T&quot; SHAPE AT INTERSECTIONS AND</text>
<text x="284.4" y="995.2" font-size="15.7" textLength="285.4" lengthAdjust="spacingAndGlyphs" >&quot;L&quot; SHAPE AT CORNERS (AT EVERY</text>
<text x="283.8" y="1019.2" font-size="15.7" textLength="186.6" lengthAdjust="spacingAndGlyphs" >2 COURSES 700mm[2&#39;-3</text>
<text x="478.5" y="1011.5" font-size="10.9" text-anchor="middle">1</text>
<text x="478.4" y="1023.6" font-size="11.2" text-anchor="middle">2</text>
<path d="M475 1013.4H481.3" stroke-width="1"/>
<text x="486.0" y="1019.2" font-size="15.7" textLength="67.5" lengthAdjust="spacingAndGlyphs" >&quot;] LONG)</text>
<text x="267.4" y="1132.6" font-size="15.9" textLength="144.6" lengthAdjust="spacingAndGlyphs" >MASONRY BLOCK</text>
<text x="269.2" y="1152.6" font-size="15.9" textLength="113.6" lengthAdjust="spacingAndGlyphs" >AS SPECIFIED</text>
<text x="174.4" y="1542.1" font-size="33.3" textLength="548.8" lengthAdjust="spacingAndGlyphs" >MASONRY BLOCK T CONNECTION</text>
<text x="598" y="1574.4" font-size="16.3" textLength="58.4" lengthAdjust="spacingAndGlyphs" >SCALE:</text>
<text x="692.4" y="1574.4" font-size="16.3" textLength="21.8" lengthAdjust="spacingAndGlyphs" >1/5</text>
</g>
</svg>
</body></html>
